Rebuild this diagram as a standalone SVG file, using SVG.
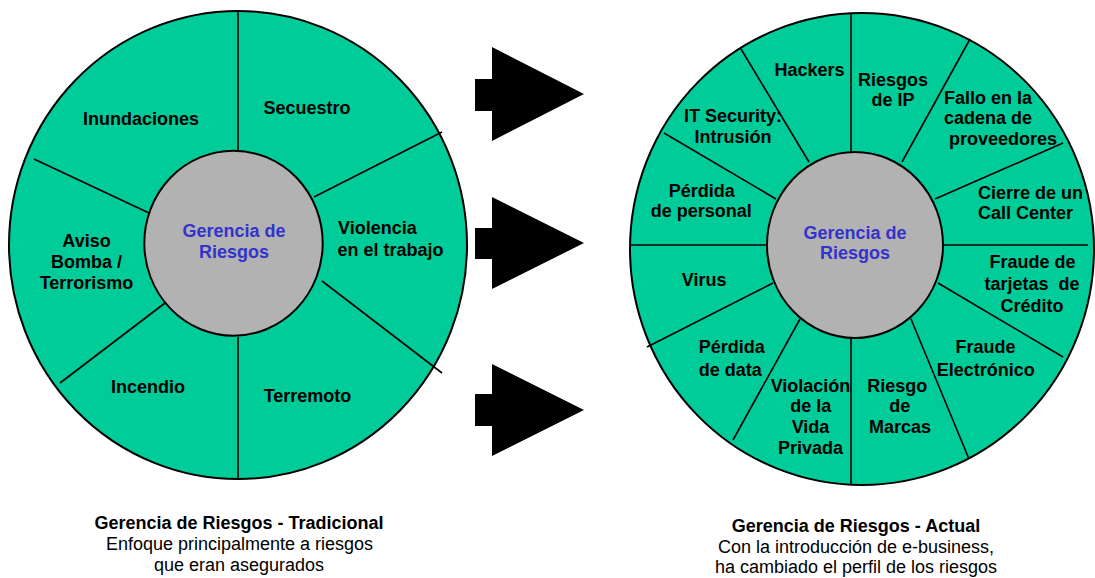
<svg xmlns="http://www.w3.org/2000/svg" width="1095" height="578" viewBox="0 0 1095 578">
<style>
.outer{fill:#00CC99;stroke:#000;stroke-width:2}
.inner{fill:#B2B2B2;stroke:#000;stroke-width:2}
.div line{stroke:#000;stroke-width:1.6}
.lbl{font-family:"Liberation Sans",Arial,sans-serif;font-weight:bold;font-size:18px;fill:#000;text-anchor:middle}
.lft{text-anchor:start}
.ctr{font-family:"Liberation Sans",Arial,sans-serif;font-weight:bold;font-size:18px;fill:#3333CC;text-anchor:middle}
.cap{font-family:"Liberation Sans",Arial,sans-serif;font-size:18px;fill:#000;text-anchor:middle}
.capb{font-weight:bold}
.arrow{fill:#000}
</style>
<rect width="1095" height="578" fill="#fff"/>

<!-- LEFT WHEEL -->
<g id="left-wheel">
<ellipse class="outer" cx="238" cy="245" rx="229" ry="234"/>
</g>
<g id="left-dividers" class="div">
<line x1="238" y1="11" x2="238" y2="151"/>
<line x1="238" y1="337" x2="238" y2="479"/>
<line x1="314" y1="197" x2="442" y2="132"/>
<line x1="34" y1="159" x2="149" y2="213"/>
<line x1="60" y1="383" x2="165" y2="303"/>
<line x1="322" y1="281" x2="442" y2="373"/>
</g>
<g id="left-center">
<ellipse class="inner" cx="233.5" cy="243.2" rx="89.2" ry="92.5"/>
<text class="ctr" x="234" y="237">Gerencia de</text>
<text class="ctr" x="234" y="258">Riesgos</text>
</g>
<g id="l-inundaciones"><text class="lbl" x="141" y="125">Inundaciones</text></g>
<g id="l-secuestro"><text class="lbl" x="307" y="114">Secuestro</text></g>
<g id="l-violencia"><text class="lbl lft" x="338" y="234">Violencia</text><text class="lbl lft" x="337.5" y="256">en el trabajo</text></g>
<g id="l-aviso"><text class="lbl" x="86.5" y="247">Aviso</text><text class="lbl" x="86.5" y="268">Bomba /</text><text class="lbl" x="86.5" y="289">Terrorismo</text></g>
<g id="l-incendio"><text class="lbl" x="148" y="393">Incendio</text></g>
<g id="l-terremoto"><text class="lbl" x="307.5" y="402">Terremoto</text></g>

<!-- ARROWS -->
<g id="arrows">
<polygon class="arrow" points="475,79 492,79 492,47 584,94 492,141 492,111 475,111"/>
<polygon class="arrow" points="475,228 492,228 492,197 584,243 492,289 492,259 475,259"/>
<polygon class="arrow" points="475,394 492,394 492,364 584,410 492,456 492,426 475,426"/>
</g>

<!-- RIGHT WHEEL -->
<g id="right-wheel">
<ellipse class="outer" cx="862" cy="249" rx="232" ry="236"/>
</g>
<g id="right-dividers" class="div">
<line x1="851" y1="13" x2="851" y2="152"/>
<line x1="851" y1="338" x2="851" y2="485"/>
<line x1="741" y1="49" x2="809" y2="162"/>
<line x1="664" y1="133" x2="776" y2="199"/>
<line x1="631" y1="245" x2="767" y2="245"/>
<line x1="647" y1="347" x2="773" y2="283"/>
<line x1="733" y1="440" x2="800" y2="319"/>
<line x1="911" y1="319" x2="969" y2="459"/>
<line x1="938" y1="283" x2="1063" y2="357"/>
<line x1="943" y1="245" x2="1088" y2="245"/>
<line x1="935" y1="199" x2="1063" y2="143"/>
<line x1="902" y1="162" x2="970" y2="39"/>
</g>
<g id="right-center">
<ellipse class="inner" cx="855" cy="245" rx="88" ry="93"/>
<text class="ctr" x="855" y="239">Gerencia de</text>
<text class="ctr" x="855" y="259">Riesgos</text>
</g>
<g id="r-hackers"><text class="lbl" x="809.5" y="76">Hackers</text></g>
<g id="r-riesgos-ip"><text class="lbl" x="893" y="86">Riesgos</text><text class="lbl" x="893" y="106">de IP</text></g>
<g id="r-fallo"><text class="lbl" x="988" y="104">Fallo en la</text><text class="lbl" x="988" y="124">cadena de</text><text class="lbl" x="1003" y="145">proveedores</text></g>
<g id="r-cierre"><text class="lbl lft" x="978" y="199">Cierre de un</text><text class="lbl lft" x="978" y="219">Call Center</text></g>
<g id="r-fraude-tarjetas"><text class="lbl" x="1032.5" y="268">Fraude de</text><text class="lbl" x="1032" y="290" xml:space="preserve">tarjetas  de</text><text class="lbl" x="1032" y="311.5">Crédito</text></g>
<g id="r-fraude-elec"><text class="lbl" x="985.5" y="353">Fraude</text><text class="lbl" x="985.8" y="375.5">Electrónico</text></g>
<g id="r-marcas"><text class="lbl" x="897.3" y="391.5">Riesgo</text><text class="lbl" x="899.7" y="412">de</text><text class="lbl" x="900" y="432.5">Marcas</text></g>
<g id="r-violacion"><text class="lbl" x="810.5" y="391.5">Violación</text><text class="lbl" x="810.7" y="412">de la</text><text class="lbl" x="810.5" y="432.5">Vida</text><text class="lbl" x="810.5" y="454">Privada</text></g>
<g id="r-perdida-data"><text class="lbl" x="731.8" y="353">Pérdida</text><text class="lbl" x="730.3" y="375.5">de data</text></g>
<g id="r-virus"><text class="lbl" x="704.2" y="285.7">Virus</text></g>
<g id="r-perdida-personal"><text class="lbl" x="701.7" y="196.7">Pérdida</text><text class="lbl" x="701.2" y="217.3">de personal</text></g>
<g id="r-it-security"><text class="lbl" x="733" y="122.3">IT Security:</text><text class="lbl" x="733" y="143.3">Intrusión</text></g>

<!-- CAPTIONS -->
<g id="caption-left">
<text class="cap capb" x="239" y="529">Gerencia de Riesgos - Tradicional</text>
<text class="cap" x="239.5" y="550">Enfoque principalmente a riesgos</text>
<text class="cap" x="239" y="571">que eran asegurados</text>
</g>
<g id="caption-right">
<text class="cap capb" x="856" y="532">Gerencia de Riesgos - Actual</text>
<text class="cap" x="856" y="553">Con la introducción de e-business,</text>
<text class="cap" x="856" y="573">ha cambiado el perfil de los riesgos</text>
</g>
</svg>
